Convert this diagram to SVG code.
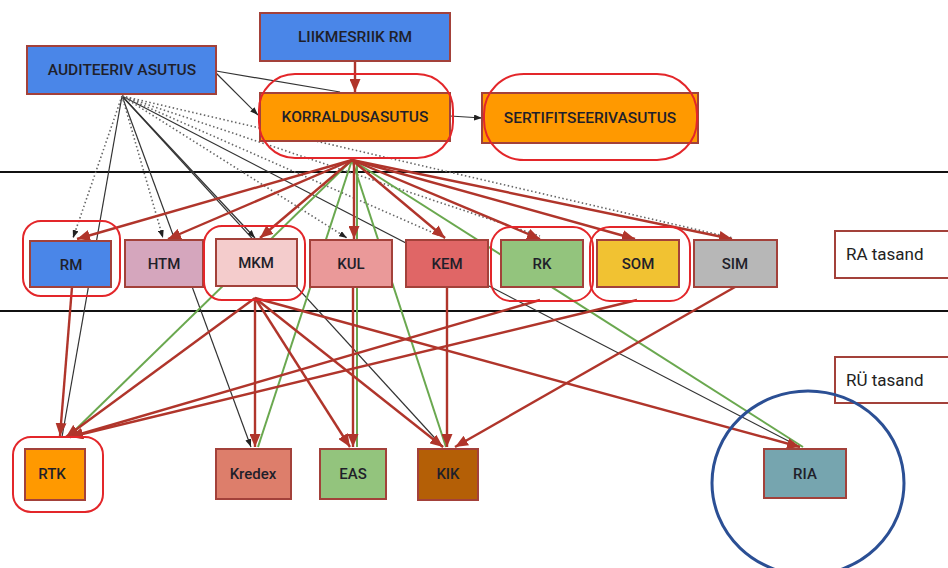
<svg xmlns="http://www.w3.org/2000/svg" width="948" height="568" viewBox="0 0 948 568">
<style>
.node{stroke:#a3413a;stroke-width:2}
.lbl{font-family:Roboto,"Liberation Sans",sans-serif;font-size:15px;font-weight:500;fill:#1f1f2a;text-anchor:middle;dominant-baseline:central}
.big{font-size:15.5px}
.side{font-family:Roboto,"Liberation Sans",sans-serif;font-size:17px;fill:#222}
.ring{fill:none;stroke:#e3262a;stroke-width:2}
.r{fill:none;stroke:#b0352b;stroke-width:2.4}
.g{fill:none;stroke:#6aa84f;stroke-width:2}
.k{fill:none;stroke:#333;stroke-width:1.2}
.d{fill:none;stroke:#666;stroke-width:1.6;stroke-dasharray:1.5 2.5}
.lvl{stroke:#111;stroke-width:2}
</style>
<defs>
<marker id="ar" viewBox="0 0 13 11" refX="13" refY="5.5" markerWidth="13" markerHeight="11" markerUnits="userSpaceOnUse" orient="auto"><path d="M0,0L13,5.5L0,11z" fill="#b0352b"/></marker>
<marker id="ak" viewBox="0 0 8 6" refX="8" refY="3" markerWidth="8" markerHeight="6" markerUnits="userSpaceOnUse" orient="auto"><path d="M0,0L8,3L0,6z" fill="#222"/></marker>
</defs>
<rect width="948" height="568" fill="#fff"/>
<g id="levels">
<line class="lvl" x1="0" y1="172" x2="948" y2="172"/>
<line class="lvl" x1="0" y1="311" x2="948" y2="311"/>
</g>
<g id="connectors">
<line class="k" x1="216" y1="71" x2="340" y2="92"/>
<line class="k" x1="216" y1="73" x2="258" y2="115" marker-end="url(#ak)"/>
<line class="k" x1="122" y1="96" x2="62" y2="437"/>
<line class="k" x1="122" y1="96" x2="251" y2="447" marker-end="url(#ak)"/>
<line class="k" x1="122" y1="96" x2="255" y2="238" marker-end="url(#ak)"/>
<line class="k" x1="122" y1="96" x2="443" y2="447"/>
<line class="k" x1="122" y1="96" x2="800" y2="447"/>
<line class="k" x1="450" y1="116" x2="482" y2="118" marker-end="url(#ak)"/>
<line class="d" x1="122" y1="96" x2="73" y2="238" marker-end="url(#ak)"/>
<line class="d" x1="122" y1="96" x2="163" y2="238" marker-end="url(#ak)"/>
<line class="d" x1="122" y1="96" x2="347" y2="238" marker-end="url(#ak)"/>
<line class="d" x1="122" y1="96" x2="445" y2="238"/>
<line class="d" x1="122" y1="96" x2="540" y2="236"/>
<line class="d" x1="122" y1="96" x2="733" y2="238"/>
<line class="r" x1="355" y1="61" x2="355" y2="92" marker-end="url(#ar)"/>
<line class="g" x1="352" y1="160" x2="68" y2="437"/>
<line class="g" x1="352" y1="160" x2="258" y2="447"/>
<line class="g" x1="357" y1="160" x2="357" y2="447"/>
<line class="g" x1="352" y1="160" x2="446" y2="447"/>
<line class="g" x1="352" y1="160" x2="803" y2="447"/>
<line class="r" x1="352" y1="160" x2="77" y2="239" marker-end="url(#ar)"/>
<line class="r" x1="352" y1="160" x2="168" y2="239" marker-end="url(#ar)"/>
<line class="r" x1="352" y1="160" x2="260" y2="238" marker-end="url(#ar)"/>
<line class="r" x1="354" y1="160" x2="354" y2="239" marker-end="url(#ar)"/>
<line class="r" x1="352" y1="160" x2="445" y2="238" marker-end="url(#ar)"/>
<line class="r" x1="352" y1="160" x2="540" y2="239" marker-end="url(#ar)"/>
<line class="r" x1="352" y1="160" x2="635" y2="239" marker-end="url(#ar)"/>
<line class="r" x1="352" y1="160" x2="732" y2="239" marker-end="url(#ar)"/>
<line class="r" x1="72" y1="287" x2="60" y2="436" marker-end="url(#ar)"/>
<line class="r" x1="255" y1="298" x2="66" y2="437" marker-end="url(#ar)"/>
<line class="r" x1="255" y1="298" x2="255" y2="447" marker-end="url(#ar)"/>
<line class="r" x1="255" y1="298" x2="350" y2="447" marker-end="url(#ar)"/>
<line class="r" x1="255" y1="298" x2="443" y2="447" marker-end="url(#ar)"/>
<line class="r" x1="255" y1="298" x2="800" y2="447" marker-end="url(#ar)"/>
<line class="r" x1="353" y1="287" x2="353" y2="447" marker-end="url(#ar)"/>
<line class="r" x1="447" y1="287" x2="447" y2="447" marker-end="url(#ar)"/>
<line class="r" x1="540" y1="300" x2="70" y2="437" marker-end="url(#ar)"/>
<line class="r" x1="637" y1="300" x2="70" y2="437" marker-end="url(#ar)"/>
<line class="r" x1="735" y1="287" x2="455" y2="447" marker-end="url(#ar)"/>
</g>
<g id="liikmesriik"><rect class="node" x="260" y="13" width="190" height="48" fill="#4a86e8"/><text class="lbl big" x="355" y="37">LIIKMESRIIK RM</text></g>
<g id="auditeeriv"><rect class="node" x="27" y="46" width="189" height="48" fill="#4a86e8"/><text class="lbl big" x="122" y="70">AUDITEERIV ASUTUS</text></g>
<g id="korraldus"><rect class="node" x="260" y="93" width="190" height="48" fill="#ff9900"/><text class="lbl big" x="355" y="117">KORRALDUSASUTUS</text><rect class="ring" x="259" y="74" width="194" height="84" rx="36"/></g>
<g id="sertifitseeriv"><rect class="node" x="482" y="93" width="216" height="50" fill="#ff9900"/><text class="lbl big" x="590" y="118">SERTIFITSEERIVASUTUS</text><rect class="ring" x="484" y="74" width="213" height="86" rx="40"/></g>
<g id="rm"><rect class="node" x="30" y="241" width="81" height="46" fill="#4a86e8"/><text class="lbl" x="71" y="265">RM</text><rect class="ring" x="23" y="221" width="97" height="75" rx="18"/></g>
<g id="htm"><rect class="node" x="125" y="240" width="78" height="47" fill="#d5a6bd"/><text class="lbl" x="164" y="264">HTM</text></g>
<g id="mkm"><rect class="node" x="216" y="239" width="81" height="47" fill="#f4cccc"/><text class="lbl" x="256" y="263">MKM</text><rect class="ring" x="204" y="226" width="101" height="74" rx="18"/></g>
<g id="kul"><rect class="node" x="310" y="240" width="82" height="47" fill="#ea9999"/><text class="lbl" x="351" y="264">KUL</text></g>
<g id="kem"><rect class="node" x="406" y="240" width="82" height="47" fill="#e06666"/><text class="lbl" x="447" y="264">KEM</text></g>
<g id="rk"><rect class="node" x="501" y="240" width="82" height="47" fill="#93c47d"/><text class="lbl" x="542" y="264">RK</text><rect class="ring" x="491" y="227" width="102" height="74" rx="20"/></g>
<g id="som"><rect class="node" x="597" y="240" width="82" height="47" fill="#f1c232"/><text class="lbl" x="638" y="264">SOM</text><rect class="ring" x="590" y="227" width="100" height="74" rx="20"/></g>
<g id="sim"><rect class="node" x="694" y="240" width="83" height="47" fill="#b7b7b7"/><text class="lbl" x="735" y="264">SIM</text></g>
<g id="ra-tasand"><rect x="835" y="231" width="125" height="47" fill="#fff" stroke="#a3413a" stroke-width="2"/><text class="side" x="846" y="260">RA tasand</text></g>
<g id="ru-tasand"><rect x="835" y="357" width="125" height="46" fill="#fff" stroke="#a3413a" stroke-width="2"/><text class="side" x="846" y="386">RÜ tasand</text></g>
<g id="rtk"><rect class="node" x="25" y="449" width="60" height="51" fill="#ff9900"/><text class="lbl" x="52" y="474">RTK</text><rect class="ring" x="13" y="437" width="90" height="75" rx="18"/></g>
<g id="kredex"><rect class="node" x="216" y="449" width="75" height="50" fill="#dd7e6b"/><text class="lbl" x="253" y="474">Kredex</text></g>
<g id="eas"><rect class="node" x="320" y="449" width="66" height="50" fill="#93c47d"/><text class="lbl" x="353" y="474">EAS</text></g>
<g id="kik"><rect class="node" x="418" y="449" width="60" height="51" fill="#b45f06"/><text class="lbl" x="448" y="474">KIK</text></g>
<g id="ria"><rect class="node" x="764" y="449" width="82" height="49" fill="#76a5af"/><text class="lbl" x="805" y="474">RIA</text></g>
<ellipse cx="808" cy="483" rx="96" ry="92" fill="none" stroke="#2b4f94" stroke-width="3"/>
</svg>
